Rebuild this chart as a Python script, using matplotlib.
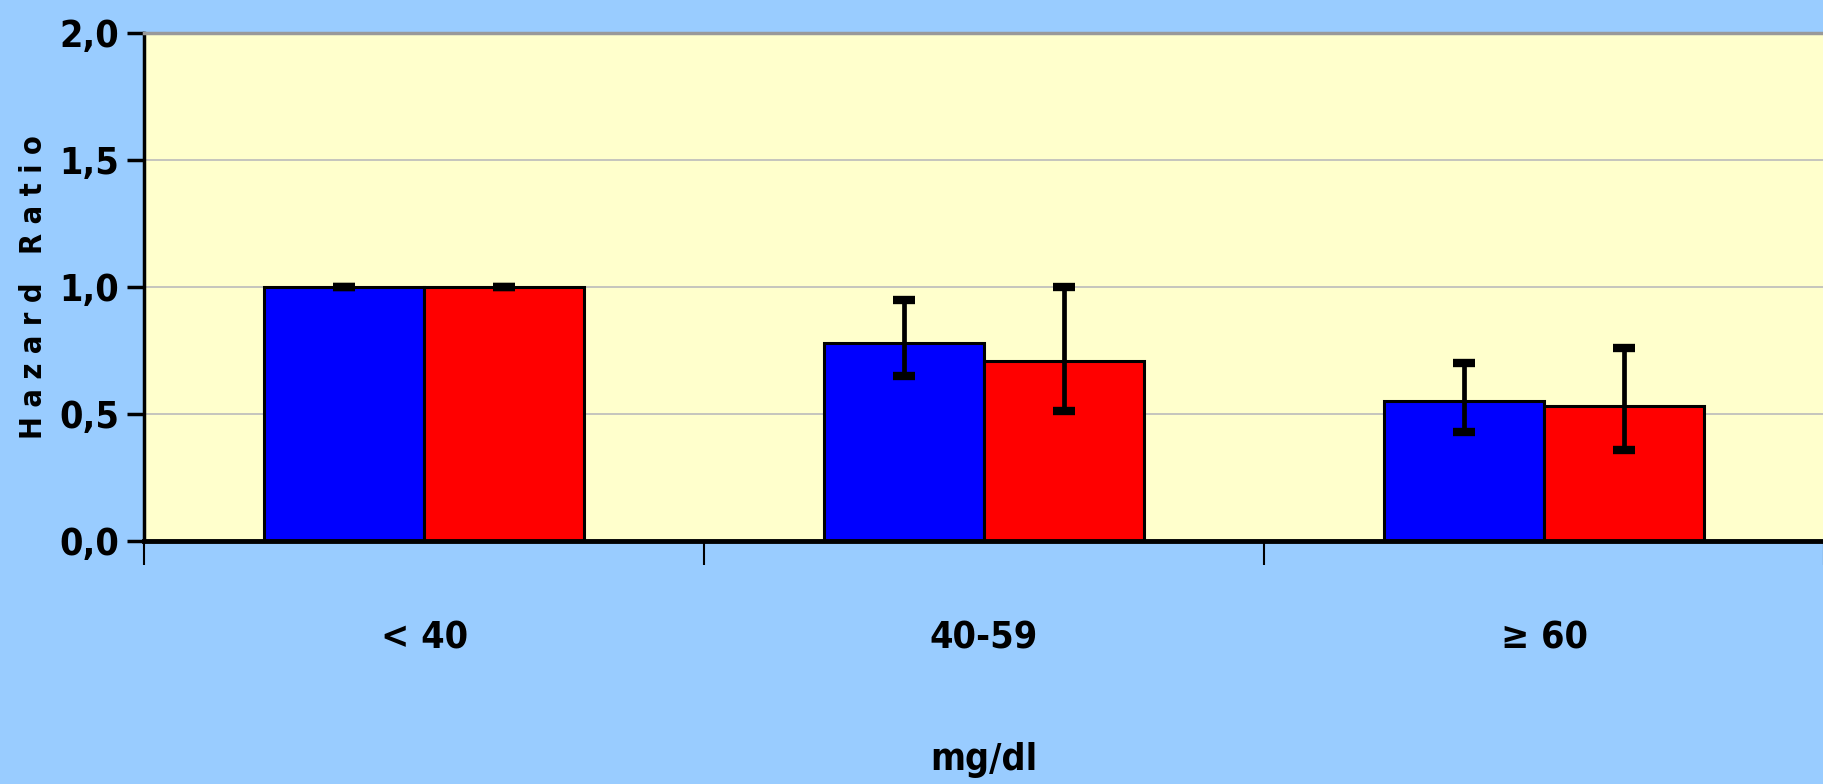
#!/usr/bin/env python3
# -*- coding: utf-8 -*-

import matplotlib
matplotlib.use("Agg")
import matplotlib.pyplot as plt
import numpy as np

categories = ["< 40", "40-59", "≥ 60"]
hr_blue = [1.0, 0.78, 0.55]
lo_blue = [1.0, 0.65, 0.43]
hi_blue = [1.0, 0.95, 0.70]
hr_red = [1.0, 0.71, 0.53]
lo_red = [1.0, 0.51, 0.36]
hi_red = [1.0, 1.0, 0.76]
yticks = [0.0, 0.5, 1.0, 1.5, 2.0]

BG = "#99CCFF"
PLOT_BG = "#FFFFCC"

plt.rcParams["font.family"] = "DejaVu Sans"
plt.rcParams["font.weight"] = "bold"
plt.rcParams["font.stretch"] = "condensed"
plt.rcParams["axes.labelweight"] = "bold"

f = plt.figure(figsize=(18.24, 7.84), dpi=100, facecolor=BG)
ax = f.add_axes([0.079, 0.31, 0.921, 0.648])
ax.set_facecolor(PLOT_BG)

x = np.arange(len(categories))
w = 0.285

err_b = [np.array(hr_blue) - np.array(lo_blue), np.array(hi_blue) - np.array(hr_blue)]
err_r = [np.array(hr_red) - np.array(lo_red), np.array(hi_red) - np.array(hr_red)]

ax.bar(x - w / 2, hr_blue, w, color="#0000FF", edgecolor="black", linewidth=2.2, zorder=2)
ax.bar(x + w / 2, hr_red, w, color="#FF0000", edgecolor="black", linewidth=2.2, zorder=2)
for xs, hr, err in [(x - w / 2, hr_blue, err_b), (x + w / 2, hr_red, err_r)]:
    ax.errorbar(xs, hr, yerr=err, fmt="none", ecolor="black",
                elinewidth=3.4, capsize=8, capthick=6, zorder=3)

ax.set_xlim(-0.5, 2.5)
ax.set_ylim(0, 2.0)
ax.set_yticks(yticks)
ax.set_yticklabels([("%.1f" % v).replace(".", ",") for v in yticks], fontsize=27)
ax.yaxis.grid(True, color="#BBBBBB", linewidth=1.2, zorder=0)
ax.set_axisbelow(True)

# category boundaries get the tick marks, labels sit in the middle
ax.set_xticks([-0.5, 0.5, 1.5, 2.5])
ax.set_xticklabels([])
ax.set_xticks(x, minor=True)
ax.set_xticklabels(categories, minor=True, fontsize=27)
ax.tick_params(axis="x", which="major", direction="out", length=17, width=1.5)
ax.tick_params(axis="x", which="minor", length=0, pad=57)
ax.tick_params(axis="y", direction="out", length=12, width=2.5, pad=6)

for s in ["left", "bottom"]:
    ax.spines[s].set_color("black")
ax.spines["left"].set_linewidth(2.5)
ax.spines["bottom"].set_linewidth(3.5)
ax.spines["top"].set_color("#999999")
ax.spines["top"].set_linewidth(2.5)
ax.spines["right"].set_visible(False)

ax.set_ylabel("H a z a r d   R a t i o", fontsize=22, labelpad=8)
ax.set_xlabel("mg/dl", fontsize=27, labelpad=62)

f.savefig("out.png", dpi=100, facecolor=BG)
plt.close()
